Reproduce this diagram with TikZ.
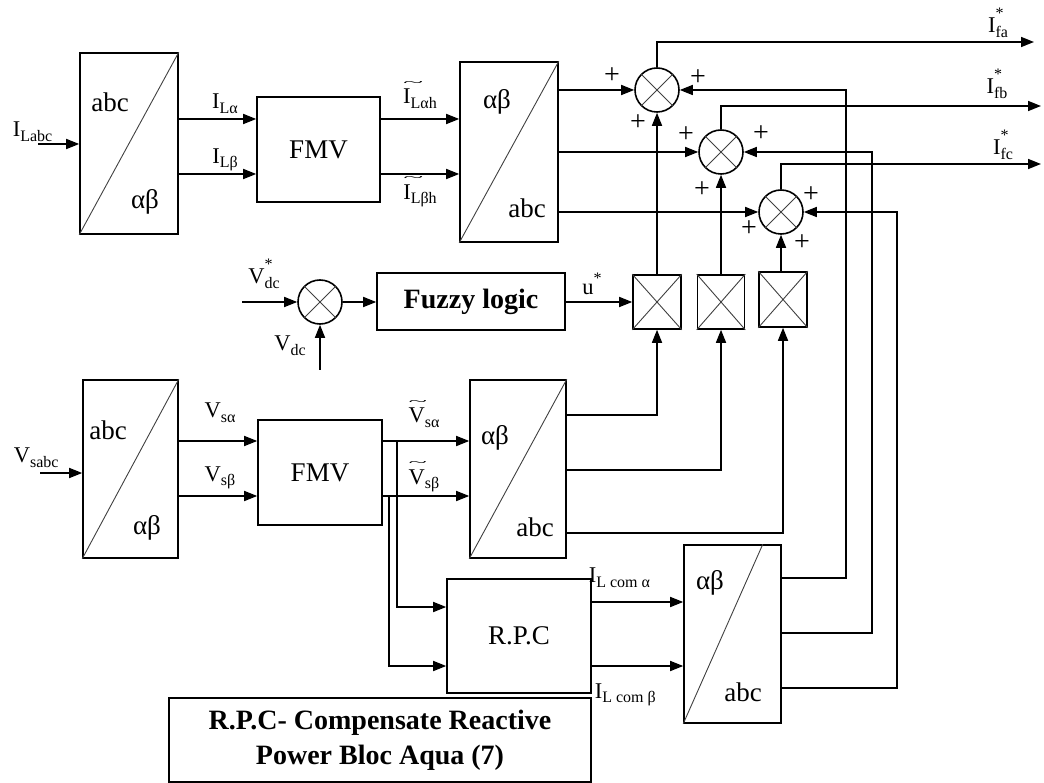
\documentclass[tikz,border=0pt]{standalone}
\usepackage{fontspec}
\setmainfont{Liberation Serif}
\usepackage{graphicx}
\usetikzlibrary{arrows.meta,calc}
\newcommand\sub[1]{\raisebox{-0.45ex}{\fontsize{16}{16}\selectfont #1}}
\newcommand\supsub[2]{\rlap{\raisebox{1.35ex}{\fontsize{16}{16}\selectfont #1}}\raisebox{-0.45ex}{\fontsize{16}{16}\selectfont #2}}
\newsavebox\tldbox
\newcommand\tld[1]{\sbox\tldbox{#1}\rlap{\raisebox{\dimexpr\ht\tldbox+3pt}{\resizebox{0.6\wd\tldbox}{5pt}{\textasciitilde}}}\usebox\tldbox}
\begin{document}
\begin{tikzpicture}[x=1pt,y=-1pt,line width=1.6pt,
  blk/.style={draw,rectangle,inner sep=0,line width=1.6pt},
  arr/.style={-{Triangle[length=13pt,width=10pt]},line width=1.6pt},
  sumc/.style={draw,circle,minimum size=44pt,inner sep=0,line width=1.6pt},
  cross/.style={line width=0.9pt,black!75},
  lab/.style={inner sep=0,font=\fontsize{22.5}{25}\selectfont},
  big/.style={inner sep=0,font=\fontsize{27}{30}\selectfont},
  plus/.style={inner sep=0,font=\fontsize{28}{30}\selectfont}]
\useasboundingbox (0,0) rectangle (1044,783);

% blocks
\node[blk,minimum width=98pt,minimum height=181pt] (T1) at (129,143.5) {};
\node[blk,minimum width=98pt,minimum height=180pt] (T2) at (509,152) {};
\node[blk,minimum width=95pt,minimum height=178pt] (T4) at (130.5,469) {};
\node[blk,minimum width=96pt,minimum height=178pt] (T3) at (518,469) {};
\node[blk,minimum width=97pt,minimum height=178pt] (T5) at (732.5,634) {};
\foreach \b in {T1,T2,T3,T4} \draw[cross] (\b.south west) -- (\b.north east);
\draw[cross] (T5.south west) -- ($(T5.north east)+(-19,0)$);
\node[big] (T1a) at (110,102) {abc};
\node[big] (T1b) at (145,202) {αβ};
\node[big] (T2a) at (497,102) {αβ};
\node[big] (T2b) at (527,208) {abc};
\node[big] (T4a) at (108,430) {abc};
\node[big] (T4b) at (147,528) {αβ};
\node[big] (T3a) at (495,438) {αβ};
\node[big] (T3b) at (535,527) {abc};
\node[big] (T5a) at (710,583) {αβ};
\node[big] (T5b) at (743,692) {abc};

\node[blk,big,minimum width=123pt,minimum height=105pt] (F1) at (318.5,149.5) {FMV};
\node[blk,big,minimum width=124pt,minimum height=105pt] (F2) at (320,472.5) {FMV};
\node[blk,big,minimum width=144pt,minimum height=114pt] (RPC) at (519,636) {R.P.C};
\node[blk,minimum width=188pt,minimum height=57pt,font=\bfseries\fontsize{28}{30}\selectfont] (Fz) at (471,301.5) {Fuzzy logic};
\node[blk,minimum width=422pt,minimum height=84pt,align=center,font=\bfseries\fontsize{28}{35}\selectfont] (Txt) at (380,740) {R.P.C- Compensate Reactive\\Power Bloc Aqua (7)};

\node[blk,minimum width=48pt,minimum height=54pt] (M1) at (657,302) {};
\node[blk,minimum width=47pt,minimum height=54pt] (M2) at (721,302) {};
\node[blk,minimum width=48pt,minimum height=55pt] (M3) at (783,299.5) {};
\foreach \m in {M1,M2,M3} \draw[cross] (\m.south west) -- (\m.north east) (\m.north west) -- (\m.south east);

\node[sumc] (S0) at (320,302) {};
\node[sumc] (S1) at (657,90) {};
\node[sumc] (S2) at (721,152) {};
\node[sumc] (S3) at (781,212) {};
\foreach \s in {S0,S1,S2,S3} \draw[cross] (\s.north west) -- (\s.south east) (\s.north east) -- (\s.south west);

% coordinates
\coordinate (inI) at (38,144);
\coordinate (inV) at (40,473);
\coordinate (yLa) at (0,119);
\coordinate (yLb) at (0,174);
\coordinate (ySa) at (0,441);
\coordinate (ySb) at (0,496);
\coordinate (yP1) at (0,415);
\coordinate (yP2) at (0,470);
\coordinate (yP3) at (0,533);
\coordinate (yRa) at (0,602);
\coordinate (yRb) at (0,666);
\coordinate (yQ1) at (0,578);
\coordinate (yQ2) at (0,633);
\coordinate (yQ3) at (0,688);
\coordinate (yB1) at (0,607);
\coordinate (yB2) at (0,666);
\coordinate (xB1) at (397,0);
\coordinate (xB2) at (389,0);
\coordinate (xV1) at (846,0);
\coordinate (xV2) at (872,0);
\coordinate (xV3) at (897,0);
\coordinate (oA) at (1034,42);
\coordinate (oB) at (1041,106);
\coordinate (oC) at (1041,164);
\coordinate (vin) at (242,302);
\coordinate (vdc) at (320,370);

% connectors top
\draw[arr] (inI) -- (inI -| T1.west);
\draw[arr] (T1.east |- yLa) -- (F1.west |- yLa);
\draw[arr] (T1.east |- yLb) -- (F1.west |- yLb);
\draw[arr] (F1.east |- yLa) -- (T2.west |- yLa);
\draw[arr] (F1.east |- yLb) -- (T2.west |- yLb);
\draw[arr] (T2.east |- S1.west) -- (S1.west);
\draw[arr] (T2.east |- S2.west) -- (S2.west);
\draw[arr] (T2.east |- S3.west) -- (S3.west);
\draw[arr] (S1.north) |- (oA);
\draw[arr] (S2.north) |- (oB);
\draw[arr] (S3.north) |- (oC);
\draw[arr] (M1.north) -- (S1.south);
\draw[arr] (M2.north) -- (S2.south);
\draw[arr] (S3.south |- M3.north) -- (S3.south);

% middle
\draw[arr] (vin) -- (S0.west);
\draw[arr] (vdc) -- (S0.south);
\draw[arr] (S0.east) -- (Fz.west |- S0.east);
\draw[arr] (Fz.east |- M1.west) -- (M1.west);

% bottom
\draw[arr] (inV) -- (inV -| T4.west);
\draw[arr] (T4.east |- ySa) -- (F2.west |- ySa);
\draw[arr] (T4.east |- ySb) -- (F2.west |- ySb);
\draw[arr] (F2.east |- ySa) -- (T3.west |- ySa);
\draw[arr] (F2.east |- ySb) -- (T3.west |- ySb);
\draw[arr] (xB1 |- ySa) |- (RPC.west |- yB1);
\draw[arr] (xB2 |- ySb) |- (RPC.west |- yB2);
\draw[arr] (T3.east |- yP1) -| (M1.south);
\draw[arr] (T3.east |- yP2) -| (M2.south);
\draw[arr] (T3.east |- yP3) -| (M3.south);
\draw[arr] (RPC.east |- yRa) -- (T5.west |- yRa);
\draw[arr] (RPC.east |- yRb) -- (T5.west |- yRb);
\draw[arr] (T5.east |- yQ1) -| (xV1 |- S1.east) -- (S1.east);
\draw[arr] (T5.east |- yQ2) -| (xV2 |- S2.east) -- (S2.east);
\draw[arr] (T5.east |- yQ3) -| (xV3 |- S3.east) -- (S3.east);

% labels
\node[lab,anchor=west] (lIabc) at (12,132) {I\sub{Labc}};
\node[lab] (lIa) at (225,104) {I\sub{Lα}};
\node[lab] (lIb) at (225,160) {I\sub{Lβ}};
\node[lab] (lIah) at (420,95) {\tld{I\sub{Lαh}}};
\node[lab] (lIbh) at (420,192) {\tld{I\sub{Lβh}}};
\node[lab] (lVdcs) at (264,274) {V\supsub{*}{dc}};
\node[lab] (lVdc) at (290,346) {V\sub{dc}};
\node[lab] (lu) at (592,284) {u\raisebox{1ex}{\fontsize{16}{16}\selectfont *}};
\node[lab] (lfa) at (998,23) {I\supsub{*}{fa}};
\node[lab] (lfb) at (997,84) {I\supsub{*}{fb}};
\node[lab] (lfc) at (1003,145) {I\supsub{*}{fc}};
\node[lab,anchor=west] (lVsabc) at (13,458) {V\sub{sabc}};
\node[lab] (lVsa) at (220,413) {V\sub{sα}};
\node[lab] (lVsb) at (220,478) {V\sub{sβ}};
\node[lab] (lVsah) at (424,414) {\tld{V\sub{sα}}};
\node[lab] (lVsbh) at (424,477) {\tld{V\sub{sβ}}};
\node[lab,anchor=west] (lIca) at (588,578) {I\sub{L com α}};
\node[lab,anchor=west] (lIcb) at (594,695) {I\sub{L com β}};

% plus signs
\node[plus] (p1) at (612,76) {+};
\node[plus] (p2) at (698,78) {+};
\node[plus] (p3) at (638,123) {+};
\node[plus] (p4) at (686,135) {+};
\node[plus] (p5) at (761,134) {+};
\node[plus] (p6) at (702,190) {+};
\node[plus] (p7) at (811,195) {+};
\node[plus] (p8) at (749,229) {+};
\node[plus] (p9) at (802,243) {+};
\end{tikzpicture}
\end{document}
